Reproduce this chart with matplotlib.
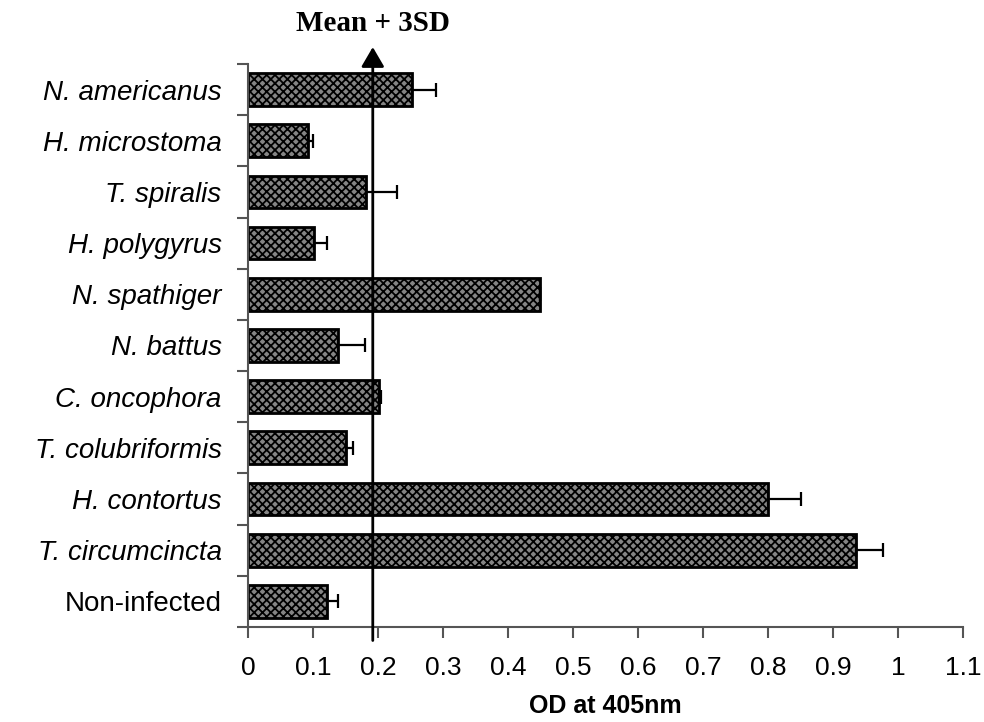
import numpy as np
import matplotlib
matplotlib.use("Agg")
import matplotlib.pyplot as plt
import matplotlib.transforms as mtransforms

# Data (top to bottom as shown)
labels = [
    "N. americanus", "H. microstoma", "T. spiralis", "H. polygyrus",
    "N. spathiger", "N. battus", "C. oncophora", "T. colubriformis",
    "H. contortus", "T. circumcincta", "Non-infected",
]
od_values = [0.252, 0.092, 0.181, 0.101, 0.450, 0.139, 0.201, 0.151, 0.800, 0.936, 0.121]
od_errors = [0.037, 0.008, 0.049, 0.020, 0.000, 0.041, 0.003, 0.010, 0.050, 0.041, 0.018]
cutoff = 0.192  # mean + 3SD
xticks = [0, 0.1, 0.2, 0.3, 0.4, 0.5, 0.6, 0.7, 0.8, 0.9, 1, 1.1]
xtick_labels = ["0", "0.1", "0.2", "0.3", "0.4", "0.5", "0.6", "0.7", "0.8", "0.9", "1", "1.1"]

plt.rcParams["font.family"] = ["Liberation Sans", "DejaVu Sans"]
plt.rcParams["hatch.linewidth"] = 1.3

fig = plt.figure(figsize=(9.84, 7.22), dpi=100)
ax = fig.add_axes([0.252, 0.1316, 0.7267, 0.7798])

n = len(labels)
y = np.arange(n)[::-1]

ax.barh(
    y, od_values, height=0.64,
    color="#858585", edgecolor="black", linewidth=2, hatch="xxxx", zorder=2,
)
ax.errorbar(
    od_values, y,
    xerr=[np.zeros(n), od_errors],
    fmt="none", ecolor="black", elinewidth=1.6, capsize=4.7, capthick=1.6, zorder=3,
)

ax.set_xlim(0, 1.1)
ax.set_ylim(-0.5, n - 0.5)
ax.set_xticks(xticks)
ax.set_xticklabels(xtick_labels, fontsize=19)

# y ticks at category boundaries, labels at centres
ax.set_yticks(np.arange(n + 1) - 0.5)
ax.set_yticklabels([])
ax.set_yticks(y, minor=True)
ax.set_yticklabels(labels, minor=True, fontsize=20)
for lab in ax.get_yticklabels(minor=True):
    if lab.get_text() != "Non-infected":
        lab.set_style("italic")
ax.tick_params(axis="y", which="minor", length=0, pad=19)
ax.tick_params(axis="y", which="major", length=8, width=1.5, color="#555555", direction="out")
ax.tick_params(axis="x", length=8, width=1.5, color="#555555", direction="out", pad=13)

for side in ["top", "right"]:
    ax.spines[side].set_visible(False)
for side in ["left", "bottom"]:
    ax.spines[side].set_color("#555555")
    ax.spines[side].set_linewidth(1.5)

ax.set_xlabel("OD at 405nm", fontsize=18, fontweight="bold", labelpad=10)

# Cut-off line with arrow
trans = mtransforms.blended_transform_factory(ax.transData, ax.transAxes)
ax.annotate(
    "", xy=(cutoff, 1.03), xytext=(cutoff, -0.024),
    xycoords=trans, textcoords=trans,
    arrowprops=dict(arrowstyle="-|>,head_length=1.2,head_width=0.7",
                    color="black", lw=2, shrinkA=0, shrinkB=0),
    annotation_clip=False, zorder=4,
)
ax.text(
    cutoff, 1.071, "Mean + 3SD", transform=trans,
    ha="center", va="center", fontsize=21, fontweight="bold",
    family=["Liberation Serif", "DejaVu Serif"],
)

fig.savefig("out.png", dpi=100)
